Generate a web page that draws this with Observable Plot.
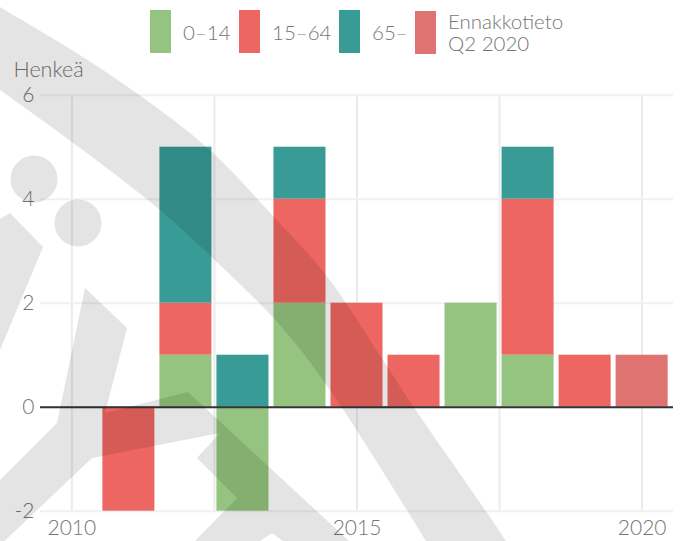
<!DOCTYPE html>
<html><head><meta charset="utf-8">
<script src="https://cdn.jsdelivr.net/npm/d3@7"></script>
<script src="https://cdn.jsdelivr.net/npm/@observablehq/plot@0.6"></script>
<style>
body{margin:0;background:#fff;font-family:Lato,"Open Sans",sans-serif;}
#wrap{position:relative;width:681px;height:541px;overflow:hidden;}
#legend{position:relative;height:56px;}
.item{position:absolute;top:10px;display:flex;align-items:center;}
.sw{width:21px;height:43px;}
.lab{margin-left:12px;font-size:20.5px;color:#767676;font-weight:300;line-height:22px;white-space:pre-line;}
#wm{position:absolute;left:0;top:0;pointer-events:none;}
</style></head>
<body><div id="wrap"><div id="legend"></div><div id="chart"></div></div>
<script>
// ---- data ----
const years = [2011, 2012, 2013, 2014, 2015, 2016, 2017, 2018, 2019, 2020];
const seriesNames = ["0–14", "15–64", "65–", "Ennakkotieto Q2 2020"];
const legendLabels = ["0–14", "15–64", "65–", "Ennakkotieto\nQ2 2020"];
const seriesColors = ["#94c47f", "#ee6661", "#389b96", "#df7371"];
const age0_14 = [0, 1, -2, 2, 0, 0, 2, 1, 0, 0];
const age15_64 = [-2, 1, 0, 2, 2, 1, 0, 3, 1, 0];
const age65 = [0, 3, 1, 1, 0, 0, 0, 1, 0, 0];
const preliminary = [0, 0, 0, 0, 0, 0, 0, 0, 0, 1];
const yTicks = [-2, 0, 2, 4, 6];
const xTicks = [2010, 2015, 2020];
const xGrid = [2010, 2012.5, 2015, 2017.5, 2020];
const yLabel = "Henkeä";

// ---- table ----
const data = [];
[age0_14, age15_64, age65, preliminary].forEach((arr, i) =>
  arr.forEach((v, j) => { if (v !== 0) data.push({year: years[j], series: seriesNames[i], value: v}); }));

// ---- legend (layout: item left offsets in px) ----
const legendLeft = [150, 239, 339, 415];
const legend = document.getElementById("legend");
legendLabels.forEach((lab, i) => {
  const it = document.createElement("div"); it.className = "item"; it.style.left = legendLeft[i] + "px";
  const sw = document.createElement("div"); sw.className = "sw"; sw.style.background = seriesColors[i];
  const tx = document.createElement("div"); tx.className = "lab"; tx.textContent = lab;
  it.appendChild(sw); it.appendChild(tx); legend.appendChild(it);
});

// ---- chart ----
const chart = Plot.plot({
  width: 681, height: 485,
  marginTop: 38.7, marginBottom: 30.3, marginLeft: 40, marginRight: 8,
  style: {fontFamily: "Lato, 'Open Sans', sans-serif", fontSize: "21px", color: "#767676", background: "transparent", fontWeight: 300},
  x: {domain: [2009.45, 2020.55], axis: null},
  y: {domain: [-2, 6], axis: null},
  color: {domain: seriesNames, range: seriesColors},
  marks: [
    Plot.gridX(xGrid, {stroke: "#ebebeb", strokeOpacity: 1, strokeWidth: 2}),
    Plot.gridY(yTicks, {stroke: "#f0f0f0", strokeOpacity: 1, strokeWidth: 2}),
    Plot.rectY(data, Plot.stackY({x1: d => d.year - 0.5, x2: d => d.year + 0.5, y: "value", fill: "series", insetLeft: 2.5, insetRight: 2.5})),
    Plot.ruleY([0], {stroke: "#333", strokeWidth: 2}),
    Plot.axisY(yTicks, {tickSize: 0, tickPadding: 6, tickFormat: d => String(d), label: null}),
    Plot.axisX(xTicks, {tickSize: 0, tickPadding: 9, tickFormat: d => String(d), label: null}),
    Plot.text([yLabel], {frameAnchor: "top-left", dx: -27, dy: -24.7, textAnchor: "start", lineAnchor: "middle", fill: "#767676", fontSize: 21.5})
  ]
});
document.getElementById("chart").appendChild(chart);

// ---- decorative background watermark (logo overlay, not data) ----
const wm = d3.select("#wrap").append("svg").attr("id", "wm").attr("width", 681).attr("height", 541);
const g = wm.append("g").attr("opacity", 0.1);
const arcOuter = [[-40,-18],[0,7],[83,57],[160,110],[213,153],[274,217],[326,275],[383,360],[413,406],[506,541],[530,580]];
const arcInner = [[-40,62],[0,90],[80,148],[160,210],[220,265],[280,325],[330,390],[426,541],[450,580]];
const lg = d3.line().curve(d3.curveCatmullRom);
const p1 = lg(arcOuter), p2 = lg(arcInner.slice().reverse());
g.append("path").attr("d", p1 + "L" + p2.slice(1) + "Z").attr("fill", "#000");
[[34,179],[78,223]].forEach(c => g.append("circle").attr("cx", c[0]).attr("cy", c[1]).attr("r", 23.5).attr("fill", "#000"));
const bodyA = [[-5,222],[10,213],[43,247],[-5,362]];
const bodyB = [[85,288],[127,328],[105,413],[188,392],[269,467],[349,541],[283,541],[272,533],[260,541],[195,541],[237,498],[197,458],[220,433],[92,458],[-5,550],[-5,485],[57,423]];
[bodyA, bodyB].forEach(pts => g.append("path").attr("d", "M" + pts.map(p => p.join(",")).join("L") + "Z").attr("fill", "#000"));
</script>
</body></html>
